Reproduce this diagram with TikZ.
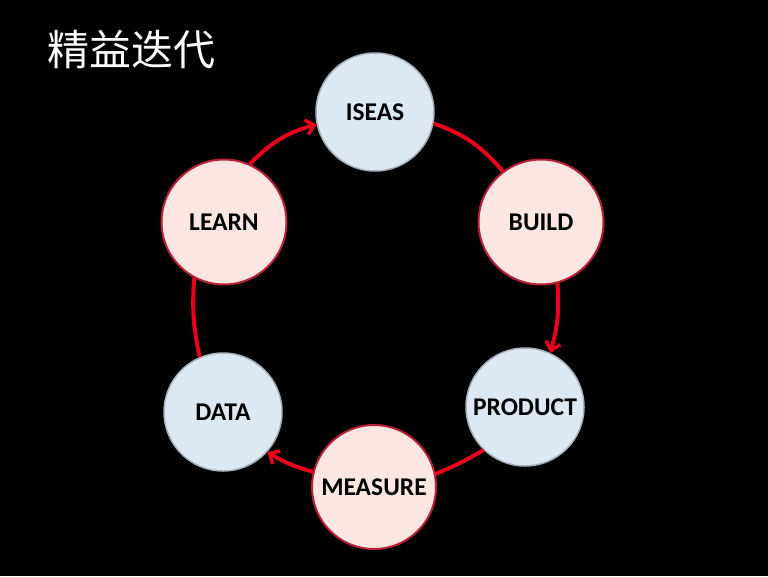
\documentclass[tikz,border=0pt]{standalone}
\usepackage{fontspec}
\setmainfont{Carlito}
\newfontfamily\cjk{Noto Sans CJK SC}
\usetikzlibrary{arrows.meta}
\definecolor{bluefill}{HTML}{DCE8F2}
\definecolor{blueedge}{HTML}{A7B0BA}
\definecolor{pinkfill}{HTML}{FBE6E1}
\definecolor{pinkedge}{HTML}{B82038}
\definecolor{linkred}{HTML}{E8001C}
\begin{document}
\begin{tikzpicture}[x=1pt,y=-1pt,
  bluenode/.style={circle,fill=bluefill,draw=blueedge,line width=1.5pt,inner sep=0pt,minimum size=#1,font=\fontsize{25.5}{30}\selectfont\bfseries},
  pinknode/.style={circle,fill=pinkfill,draw=pinkedge,line width=2pt,inner sep=0pt,minimum size=#1,font=\fontsize{25.5}{30}\selectfont\bfseries},
  link/.style={draw=linkred,line width=4pt},
  arrowlink/.style={link,-{Straight Barb[length=8pt,width=15pt,line width=3.5pt]}}]
\fill[black] (0,0) rectangle (768,576);
\useasboundingbox (0,0) rectangle (768,576);
\node[text=white,font=\cjk\fontsize{42}{46}\selectfont,anchor=west] (title) at (44,50) {精益迭代};
\node[bluenode=118pt] (iseas) at (375,112) {ISEAS};
\node[pinknode=125pt] (build) at (541,222) {BUILD};
\node[bluenode=118pt] (product) at (525,407) {PRODUCT};
\node[pinknode=124pt] (measure) at (374,487) {MEASURE};
\node[bluenode=118pt] (data) at (223,412) {DATA};
\node[pinknode=125pt] (learn) at (224,222) {LEARN};
\draw[arrowlink] (learn.66) to[bend left=15] (iseas.192);
\draw[link] (iseas.349) to[bend left=15] (build.127);
\draw[arrowlink] (build.285) to[bend left=10] (product.65);
\draw[link] (product.226) to[bend left=4] (measure.12);
\draw[arrowlink] (measure.166) to[bend left=8] (data.318);
\draw[link] (data.113) to[bend left=8] (learn.242);
\end{tikzpicture}
\end{document}
